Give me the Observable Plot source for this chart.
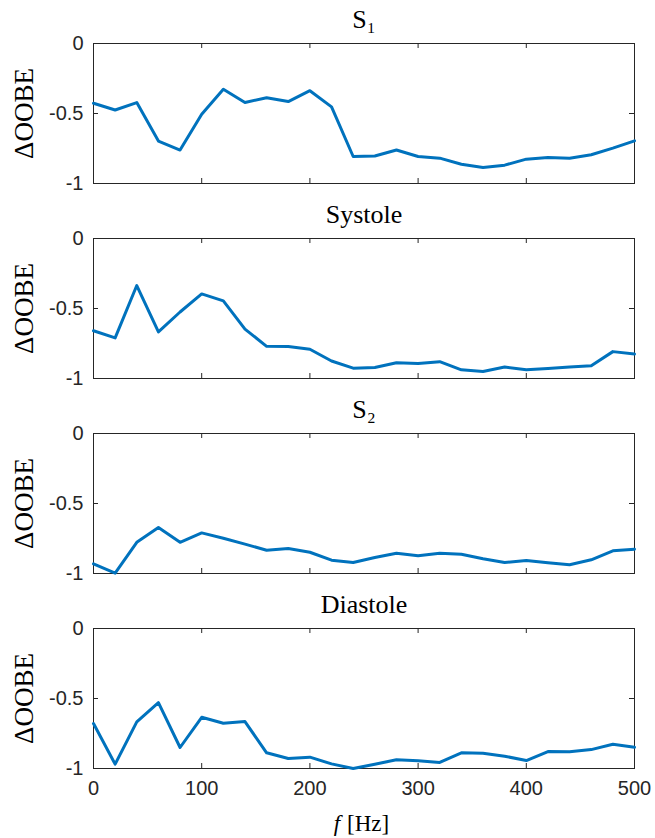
<!DOCTYPE html>
<html>
<head>
<meta charset="utf-8">
<script src="https://cdn.jsdelivr.net/npm/d3@7"></script>
<script src="https://cdn.jsdelivr.net/npm/@observablehq/plot@0.6"></script>
<style>
  body { margin: 0; background: #fff; }
  #chart svg { display: block; }
</style>
</head>
<body>
<div id="chart"></div>
<script>
const freqs = [0,20,40,60,80,100,120,140,160,180,200,220,240,260,280,300,320,340,360,380,400,420,440,460,480,500];
const s1 = [-0.427,-0.475,-0.422,-0.697,-0.761,-0.506,-0.327,-0.422,-0.387,-0.415,-0.337,-0.453,-0.807,-0.804,-0.761,-0.807,-0.819,-0.862,-0.885,-0.869,-0.826,-0.814,-0.819,-0.795,-0.747,-0.695];
const systole = [-0.659,-0.710,-0.336,-0.667,-0.525,-0.396,-0.446,-0.647,-0.770,-0.772,-0.791,-0.875,-0.926,-0.921,-0.887,-0.892,-0.880,-0.938,-0.950,-0.918,-0.938,-0.928,-0.918,-0.909,-0.808,-0.825];
const s2 = [-0.931,-0.998,-0.777,-0.672,-0.777,-0.710,-0.748,-0.790,-0.834,-0.822,-0.848,-0.905,-0.922,-0.886,-0.855,-0.874,-0.855,-0.862,-0.895,-0.922,-0.907,-0.924,-0.938,-0.902,-0.838,-0.827];
const diastole = [-0.679,-0.969,-0.667,-0.530,-0.850,-0.634,-0.677,-0.665,-0.888,-0.929,-0.919,-0.967,-1.000,-0.969,-0.938,-0.945,-0.957,-0.888,-0.891,-0.912,-0.943,-0.879,-0.881,-0.865,-0.827,-0.848];
const titles = ["S\u2081", "Systole", "S\u2082", "Diastole"];
const seriesList = [s1, systole, s2, diastole];
const xTicks = [0,100,200,300,400,500];
const yTicks = [0,-0.5,-1];
const yLabel = "\u0394OOBE";
const xLabelVar = "f";
const xLabelUnit = "[Hz]";

const axisColor = "#262626";
const lineColor = "#0072BD";
const serif = "'Liberation Serif', 'DejaVu Serif', serif";
const sans = "'Liberation Sans', Arial, sans-serif";
const frameH = 140, frameW = 541, tickLen = 5;

const container = document.getElementById("chart");

seriesList.forEach((vals, i) => {
  const last = i === seriesList.length - 1;
  const data = freqs.map((f, j) => ({f, v: vals[j]}));
  const marks = [
    Plot.frame({stroke: axisColor, strokeWidth: 1}),
    Plot.tickX(xTicks, {x: d => d, stroke: axisColor, insetBottom: frameH - tickLen}),
    Plot.tickX(xTicks, {x: d => d, stroke: axisColor, insetTop: frameH - tickLen}),
    Plot.tickY(yTicks, {y: d => d, stroke: axisColor, insetRight: frameW - tickLen}),
    Plot.tickY(yTicks, {y: d => d, stroke: axisColor, insetLeft: frameW - tickLen}),
    Plot.axisY({ticks: yTicks, tickSize: 0, tickPadding: 10, tickFormat: d => String(d), fontSize: 20, fontFamily: sans, fill: axisColor, label: null}),
    Plot.line(data, {x: "f", y: "v", stroke: lineColor, strokeWidth: 3, strokeLinejoin: "round"}),
    Plot.text([titles[i]], {frameAnchor: "top", lineAnchor: "middle", textAnchor: "middle", dy: -24, fontFamily: serif, fontSize: 26, fill: "#000"}),
    Plot.text([yLabel], {frameAnchor: "left", lineAnchor: "middle", textAnchor: "middle", dx: -69, rotate: -90, fontFamily: serif, fontSize: 27, fill: "#000"})
  ];
  if (last) {
    marks.push(
      Plot.axisX({ticks: xTicks, tickSize: 0, tickPadding: 12, tickFormat: d => String(d), fontSize: 20, fontFamily: sans, fill: axisColor, label: null}),
      Plot.text([xLabelVar], {frameAnchor: "bottom", lineAnchor: "middle", dy: 55, dx: -27, fontFamily: serif, fontStyle: "italic", fontSize: 23, fill: "#000"}),
      Plot.text([xLabelUnit], {frameAnchor: "bottom", lineAnchor: "middle", dy: 55, dx: -17, textAnchor: "start", fontFamily: serif, fontSize: 23, fill: "#000"})
    );
  }
  const chart = Plot.plot({
    width: 655,
    height: last ? 253 : 195,
    marginLeft: 93,
    marginRight: 21,
    marginTop: 43,
    marginBottom: last ? 70 : 12,
    style: {background: "#fff", color: axisColor, fontFamily: sans, overflow: "visible"},
    x: {domain: [0, 500], axis: null},
    y: {domain: [-1, 0], axis: null},
    marks
  });
  container.appendChild(chart);
});
</script>
</body>
</html>
